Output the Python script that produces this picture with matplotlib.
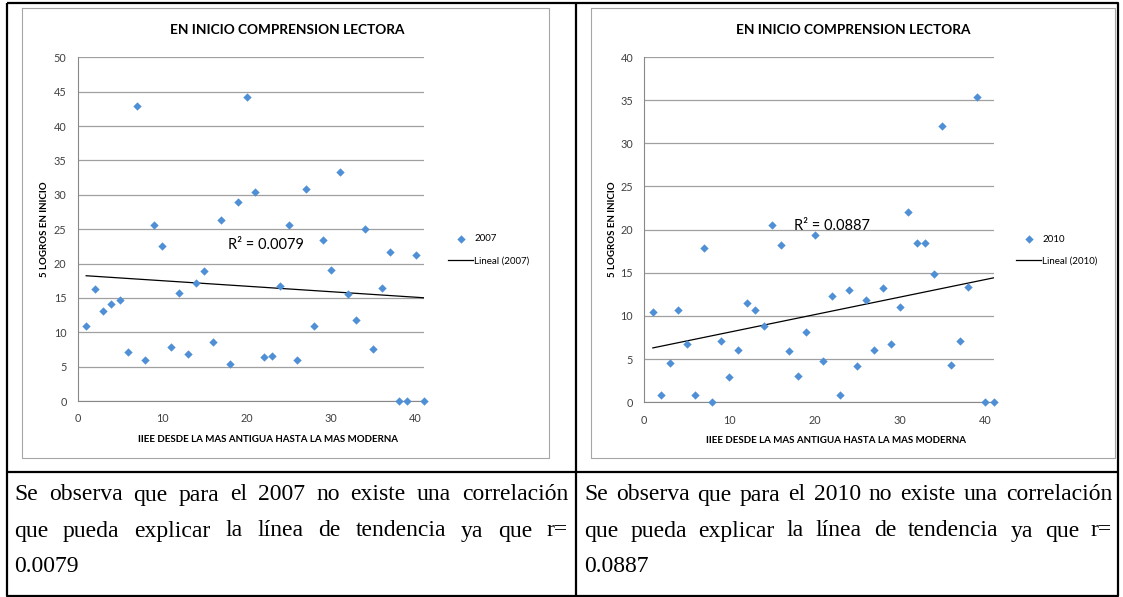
import numpy as np
import matplotlib.pyplot as plt

# IIEE ordered from oldest to newest
iiee = np.arange(1, 42)

# % of students "en inicio" (5 logros), comprension lectora
logros_2007 = [10.9, 16.3, 13.1, 14.1, 14.7, 7.1, 42.9, 5.9, 25.6, 22.6,
               7.9, 15.7, 6.8, 17.2, 18.9, 8.6, 26.3, 5.4, 29.0, 44.2,
               30.4, 6.4, 6.5, 16.8, 25.6, 5.9, 30.8, 10.9, 23.4, 19.0,
               33.3, 15.6, 11.8, 25.0, 7.5, 16.4, 21.7, 0.0, 0.0, 21.2, 0.0]
logros_2010 = [10.5, 0.9, 4.5, 10.7, 6.8, 0.9, 17.9, 0.0, 7.1, 2.9,
               6.1, 11.5, 10.7, 8.8, 20.5, 18.2, 6.0, 3.1, 8.1, 19.4,
               4.8, 12.3, 0.9, 13.0, 4.2, 11.9, 6.1, 13.2, 6.7, 11.0,
               22.1, 18.4, 18.5, 14.9, 32.0, 4.3, 7.1, 13.3, 35.4, 0.0, 0.0]

titulo = "EN INICIO COMPRENSION LECTORA"
xlab = "IIEE DESDE LA MAS ANTIGUA HASTA LA MAS MODERNA"
ylab = "5 LOGROS EN INICIO"
r2_labels = ["R² = 0.0079", "R² = 0.0887"]
years = ["2007", "2010"]
yticks_list = [np.arange(0, 51, 5), np.arange(0, 41, 5)]

texto_izq = ["Se observa que para el 2007 no existe una correlación",
             "que pueda explicar la línea de tendencia ya que r=",
             "0.0079"]
texto_der = ["Se observa que para el 2010 no existe una correlación",
             "que pueda explicar la línea de tendencia ya que r=",
             "0.0887"]

W, H = 1123, 597
blue = '#4F8FD6'
chart_font = 'Lato'

fig = plt.figure(figsize=(W / 100, H / 100), dpi=100)

# background axes in pixel coordinates for the table and the text
bg = fig.add_axes([0, 0, 1, 1])
bg.set_xlim(0, W)
bg.set_ylim(H, 0)
bg.axis('off')


def px_axes(left, top, right, bottom):
    return fig.add_axes([left / W, 1 - bottom / H, (right - left) / W, (bottom - top) / H])


# table lines
lk = dict(color='black', lw=1.6, solid_capstyle='butt')
bg.plot([7, 1118, 1118, 7, 7], [3, 3, 596, 596, 3], **lk)
bg.plot([576, 576], [3, 596], **lk)
bg.plot([7, 1118], [472, 472], **lk)

# chart frames
fk = dict(color='#A6A6A6', lw=0.8)
bg.plot([22, 549, 549, 22, 22], [8, 8, 458, 458, 8], **fk)
bg.plot([591, 1115, 1115, 591, 591], [8, 8, 458, 458, 8], **fk)

# titles
bg.text(287, 30, titulo, ha='center', va='center', fontsize=9.8, fontweight='bold',
        family=chart_font)
bg.text(853, 30, titulo, ha='center', va='center', fontsize=9.8, fontweight='bold',
        family=chart_font)

boxes = [(77.7, 57.3, 424.0, 401.0), (644.3, 57.0, 993.6, 402.3)]
series = [logros_2007, logros_2010]
r2_pos = [(0.435, 0.455), (0.43, 0.51)]
leg_anchor = [(1.055, 0.44), (1.05, 0.44)]
ylab_x = [-0.083, -0.078]

for i in range(2):
    ax = px_axes(*boxes[i])
    y = np.array(series[i])
    ax.scatter(iiee, y, marker='D', s=18, color=blue, zorder=3, clip_on=False,
               label=years[i], linewidths=0)
    m, b = np.polyfit(iiee, y, 1)
    ax.plot(iiee, m * iiee + b, color='black', lw=0.9, zorder=2,
            label='Lineal (' + years[i] + ')')
    ax.set_xlim(0, 41)
    yt = yticks_list[i]
    ax.set_ylim(0, yt[-1])
    ax.set_yticks(yt)
    ax.set_xticks([0, 10, 20, 30, 40])
    ax.grid(axis='y', color='#A0A0A0', lw=0.9)
    ax.set_axisbelow(True)
    for s in ['top', 'right']:
        ax.spines[s].set_visible(False)
    ax.spines['left'].set_color('#888888')
    ax.spines['bottom'].set_color('#888888')
    ax.tick_params(length=0, labelsize=7.8, labelcolor='#404040')
    ax.tick_params(axis='y', pad=8)
    ax.tick_params(axis='x', pad=9)
    for lbl in ax.get_xticklabels() + ax.get_yticklabels():
        lbl.set_family(chart_font)
    ax.set_ylabel(ylab, fontsize=7, fontweight='bold', family=chart_font)
    ax.yaxis.set_label_coords(ylab_x[i], 0.5)
    ax.set_xlabel(xlab, fontsize=7, fontweight='bold', family=chart_font)
    ax.xaxis.set_label_coords(0.55, -0.098)
    ax.text(r2_pos[i][0], r2_pos[i][1], r2_labels[i], transform=ax.transAxes,
            fontsize=10.5, family=chart_font, va='center')
    ax.legend(loc='center left', bbox_to_anchor=leg_anchor[i], frameon=False,
              prop={'family': chart_font, 'size': 7}, handlelength=2.6,
              labelspacing=1.3, borderpad=0, handletextpad=0.1,
              scatterpoints=1)


# justified text lines of the table cells
def put_line(text, x0, x1, y, justify):
    words = text.split()
    r = fig.canvas.get_renderer()
    arts = [bg.text(0, y, w, fontsize=17, family='Liberation Serif', va='center', ha='left')
            for w in words]
    widths = [a.get_window_extent(r).width for a in arts]
    if justify and len(words) > 1:
        gap = max((x1 - x0 - sum(widths)) / (len(words) - 1), 3)
    else:
        gap = 5
    x = x0
    for a, w in zip(arts, widths):
        a.set_x(x)
        x += w + gap


line_y = [495, 531, 566]
for k in range(3):
    put_line(texto_izq[k], 14, 568, line_y[k], k < 2)
    put_line(texto_der[k], 584, 1112, line_y[k], k < 2)

fig.savefig('out.png', dpi=100)
